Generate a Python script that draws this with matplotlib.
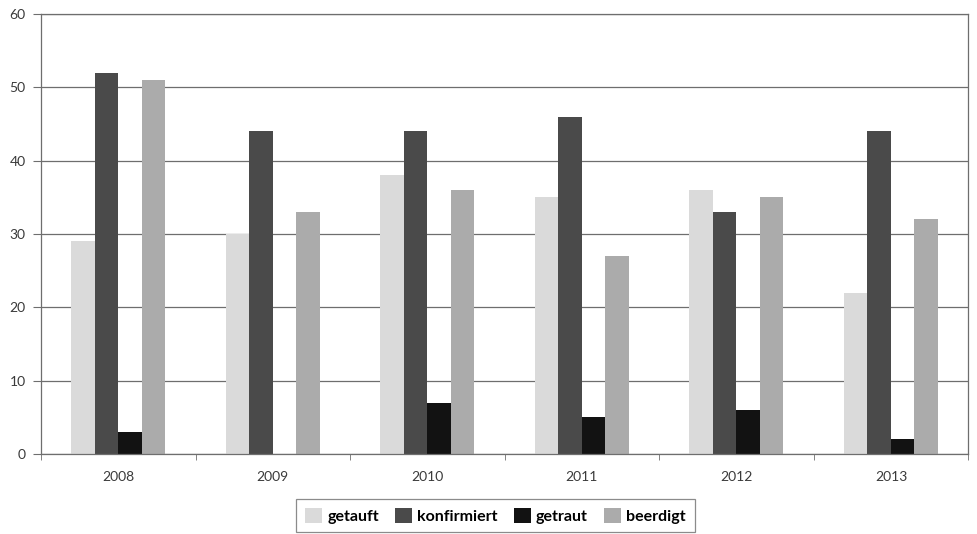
import numpy as np
import matplotlib
matplotlib.use("Agg")
import matplotlib.pyplot as plt

# Amtshandlungen pro Jahr
jahre = ["2008", "2009", "2010", "2011", "2012", "2013"]
getauft = [29, 30, 38, 35, 36, 22]
konfirmiert = [52, 44, 44, 46, 33, 44]
getraut = [3, 0, 7, 5, 6, 2]
beerdigt = [51, 33, 36, 27, 35, 32]

reihen = [getauft, konfirmiert, getraut, beerdigt]
namen = ["getauft", "konfirmiert", "getraut", "beerdigt"]
farben = ["#dadada", "#4a4a4a", "#121212", "#ababab"]

plt.rcParams["font.family"] = ["Lato", "DejaVu Sans"]

fig = plt.figure(figsize=(9.77, 5.34), dpi=100)
ax = fig.add_axes([0.042, 0.150, 0.949, 0.824])

x = np.arange(len(jahre))
breite = 0.152
for i, werte in enumerate(reihen):
    ax.bar(x + (i - 1.5) * breite, werte, width=breite, color=farben[i],
           label=namen[i], zorder=2)

# Achsen und Gitter
ax.set_ylim(0, 60)
ax.set_xlim(-0.5, len(jahre) - 0.5)
ax.set_yticks(range(0, 61, 10))
ax.yaxis.grid(True, color="#6e6e6e", linewidth=0.9, zorder=1)
for s in ax.spines.values():
    s.set_color("#6e6e6e")
    s.set_linewidth(0.9)

ax.set_xticks(x)
ax.set_xticklabels(jahre)
ax.set_xticks(np.arange(-0.5, len(jahre)), minor=True)
ax.tick_params(axis="x", which="major", length=0, pad=12, labelsize=10, labelcolor="#3a3a3a")
ax.tick_params(axis="x", which="minor", length=4, color="#6e6e6e", direction="out")
ax.tick_params(axis="y", length=6, pad=5, labelsize=10, labelcolor="#3a3a3a", color="#6e6e6e")

# Legende unten mit Rahmen (unterer Rand liegt ausserhalb)
leg = fig.legend(loc="upper center", bbox_to_anchor=(0.507, 0.081), ncol=4, frameon=True,
                 fancybox=False, edgecolor="#6e6e6e", borderpad=0.55,
                 handlelength=1.1, handleheight=1.1, handletextpad=0.3, columnspacing=1.0,
                 prop={"weight": "bold", "size": 11.5})
leg.get_frame().set_linewidth(0.9)

fig.savefig("out.png", dpi=100)
